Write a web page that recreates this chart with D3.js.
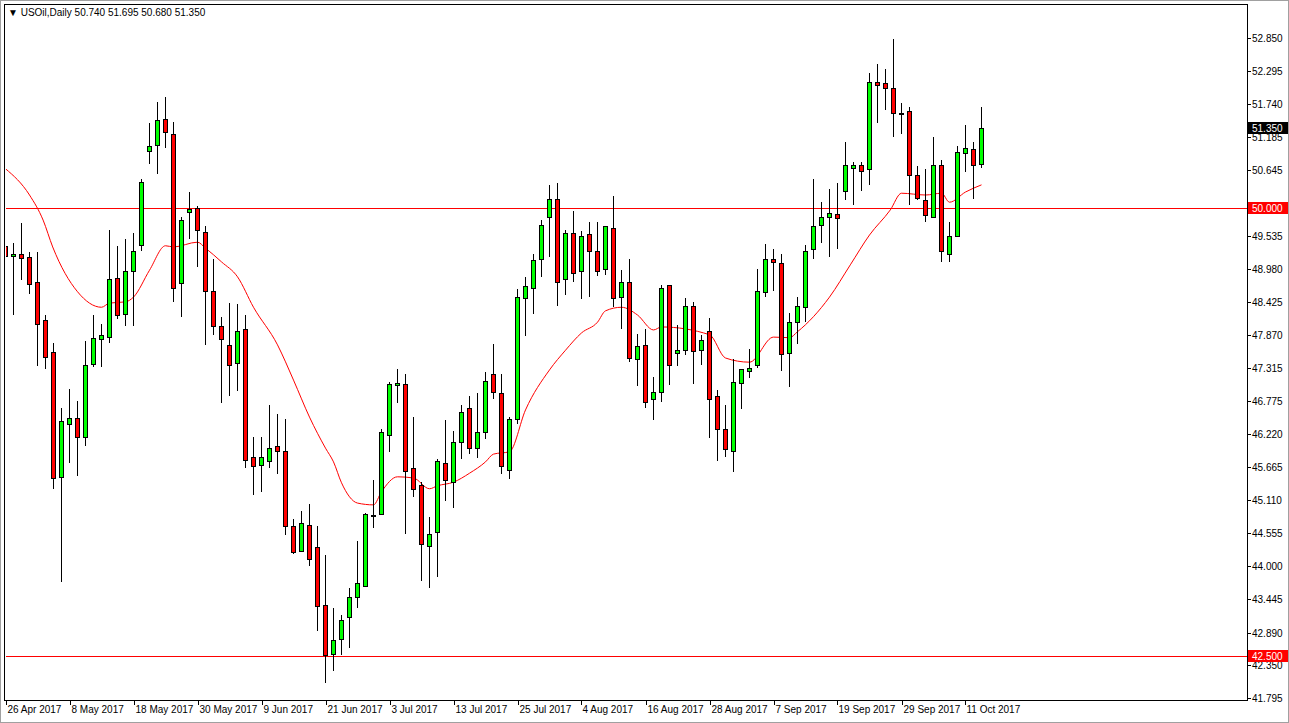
<!DOCTYPE html>
<html><head><meta charset="utf-8">
<script src="https://cdn.jsdelivr.net/npm/d3@7"></script>
<style>body{margin:0;background:#fff}svg{display:block}text{font-family:"Liberation Sans",Arial,sans-serif;font-size:10px}</style>
</head><body><svg id="c" width="1289" height="723"></svg>
<script>
const opens=[49.37,49.20,49.24,49.18,48.76,48.13,47.59,45.49,46.38,46.48,46.16,47.39,47.80,47.84,48.83,48.22,48.94,49.38,50.95,51.05,51.49,51.25,48.74,49.93,50.01,49.60,48.61,48.02,47.70,47.40,47.97,45.83,45.69,45.76,46.01,45.94,44.67,44.25,44.69,44.32,43.36,42.54,42.78,43.15,43.48,43.67,44.85,44.87,46.20,47.03,47.05,45.64,45.36,44.34,44.57,45.73,45.42,46.08,46.66,45.99,46.25,47.23,46.90,45.61,46.46,48.49,48.67,49.14,49.85,50.15,48.81,49.58,48.94,49.56,49.29,48.98,49.66,48.51,48.77,47.47,47.70,46.80,46.92,48.71,47.57,47.62,48.36,47.62,47.95,46.85,46.30,45.93,47.07,47.27,47.37,48.59,49.14,49.08,47.57,48.10,48.34,49.31,49.71,49.85,49.90,50.28,50.68,50.72,50.65,52.12,52.09,52.01,51.59,51.62,50.55,50.13,49.86,50.72,49.24,49.53,50.92,50.99,50.74];
const highs=[50.19,49.41,49.75,49.27,49.26,48.21,47.74,46.65,46.97,46.77,47.78,48.21,48.06,49.64,49.37,49.48,49.58,50.49,51.42,51.77,51.86,51.45,49.85,50.27,50.04,49.70,49.15,48.18,48.41,48.39,48.21,46.17,46.17,46.70,46.55,46.47,44.79,44.93,45.05,44.67,44.19,43.31,43.19,43.64,44.43,44.89,45.45,46.30,47.08,47.30,47.22,46.51,45.41,44.82,45.79,46.45,46.26,46.71,46.85,46.90,47.25,47.73,47.23,46.51,48.65,48.85,49.24,49.80,50.39,50.42,49.63,49.95,49.61,49.76,49.76,49.70,50.20,48.96,49.14,47.89,47.97,47.17,48.72,48.72,48.04,48.50,48.42,47.87,48.16,46.95,46.70,47.47,47.30,47.64,48.98,49.40,49.31,49.24,48.24,48.52,49.38,50.48,50.11,50.32,50.42,51.11,50.78,50.78,52.26,52.41,52.33,52.84,51.76,51.69,50.70,50.65,51.20,50.80,49.76,51.04,51.39,51.10,51.695];
const lows=[48.94,48.21,48.79,48.57,47.35,47.30,45.29,43.74,45.73,45.51,46.01,47.34,47.34,47.74,48.15,48.02,48.03,49.29,50.74,50.57,51.01,48.43,48.17,49.49,49.02,47.71,47.88,46.73,46.85,46.93,45.64,45.20,45.25,45.65,45.55,44.53,44.21,44.25,44.01,42.92,42.04,42.25,42.52,42.63,43.31,43.67,44.65,44.86,45.91,46.73,44.55,45.17,43.76,43.64,43.83,45.10,44.97,45.79,45.89,45.81,46.13,46.80,45.54,45.46,46.38,47.86,48.23,48.85,49.18,48.36,48.54,48.77,48.48,48.52,48.86,48.88,48.34,47.97,47.43,47.02,46.66,46.45,46.76,47.03,47.35,47.54,47.05,47.38,46.15,45.76,45.83,45.58,46.63,47.15,47.33,48.51,48.62,47.27,47.00,47.72,48.10,49.14,49.41,49.18,49.31,50.13,50.06,50.28,50.38,51.42,51.64,51.20,51.25,50.06,50.13,49.76,49.83,49.09,49.09,49.53,50.60,50.15,50.68];
const closes=[49.20,49.23,49.16,48.73,48.06,47.51,45.48,46.44,46.48,46.16,47.37,47.82,47.87,48.81,48.21,48.94,49.29,50.43,51.04,51.47,51.27,48.67,49.80,49.98,49.63,48.62,48.02,47.80,47.38,47.95,45.78,45.68,45.84,45.98,45.94,44.67,44.24,44.72,44.12,43.33,42.51,42.76,43.10,43.48,43.72,44.87,44.86,46.25,47.05,47.07,45.59,45.29,44.37,44.54,45.76,45.44,46.08,46.58,45.98,46.25,47.10,46.92,45.68,46.46,48.52,48.69,49.13,49.71,50.16,48.76,49.58,48.91,49.53,49.29,48.94,49.70,48.49,48.76,47.49,47.69,46.76,46.92,48.67,47.38,47.62,48.36,47.60,47.79,46.80,46.30,45.96,47.08,47.30,47.32,48.62,49.14,49.09,47.55,48.09,48.36,49.29,49.70,49.86,49.92,49.83,50.72,50.72,50.63,52.11,52.06,52.02,51.59,51.58,50.55,50.17,49.88,50.73,49.28,49.53,50.94,51.00,50.72,51.35];
const maIdx=[0,3,4.7,5.9,9,12,13,15,16,18,20,21,24,25,27,29,31,34,36,38,40,41,42,44,46,47,49,51,53,54,56,58,60,61,63,65,68,70,72,74,75,77,79,81,82,88,90,93,96,98,99,103,105.6,108,110.6,112,115,117,118,120,122];
const maVal=[50.66,50.22,49.80,49.35,48.60,48.34,48.41,48.43,48.51,48.96,49.37,49.35,49.43,49.33,49.10,48.85,48.34,47.71,47.12,46.50,45.98,45.75,45.40,45.06,45.03,45.25,45.50,45.48,45.30,45.35,45.41,45.56,45.75,45.88,45.92,46.62,47.29,47.62,47.91,48.09,48.28,48.34,48.21,47.96,48.01,47.88,47.49,47.42,47.84,47.83,47.93,48.51,49.05,49.55,49.97,50.25,50.22,50.25,50.10,50.27,50.39];
const priceTicks=[52.850,52.295,51.740,51.185,50.645,49.535,48.980,48.425,47.870,47.315,46.775,46.220,45.665,45.110,44.555,44.000,43.445,42.890,42.350,41.795];
const dateLabels=["26 Apr 2017","8 May 2017","18 May 2017","30 May 2017","9 Jun 2017","21 Jun 2017","3 Jul 2017","13 Jul 2017","25 Jul 2017","4 Aug 2017","16 Aug 2017","28 Aug 2017","7 Sep 2017","19 Sep 2017","29 Sep 2017","11 Oct 2017"];
const hLevels=[50.000,42.500];
const lastPrice=51.350;

const svg=d3.select("#c");
const L=5,R=1247,T=5,B=700;
const x=d3.scaleLinear().domain([0,122]).range([5.5,981.5]);
const y=d3.scaleLinear().domain([41.795,52.85]).range([698,38]);
svg.append("rect").attr("x",0.5).attr("y",0.5).attr("width",1288).attr("height",722).attr("fill","#fff").attr("stroke","#a0a0a0");
const g=svg.append("g");
svg.append("clipPath").attr("id","pc").append("rect").attr("x",L+1).attr("y",T+1).attr("width",R-L-1).attr("height",B-T-1);
const pg=g.append("g").attr("clip-path","url(#pc)");
hLevels.forEach(v=>pg.append("line").attr("x1",L).attr("x2",R).attr("y1",Math.round(y(v))+0.5).attr("y2",Math.round(y(v))+0.5).attr("stroke","#ff0000"));
pg.append("path").datum(maIdx.map((d,i)=>[d,maVal[i]])).attr("fill","none").attr("stroke","#ff0000").attr("stroke-width",1)
 .attr("d",d3.line().x(d=>x(d[0])).y(d=>y(d[1])).curve(d3.curveMonotoneX));
const idx=d3.range(opens.length);
pg.selectAll("line.w").data(idx).join("line").attr("x1",i=>x(i)).attr("x2",i=>x(i)).attr("y1",i=>Math.round(y(highs[i]))).attr("y2",i=>Math.round(y(lows[i]))).attr("stroke","#000");
pg.selectAll("rect.b").data(idx).join("rect").attr("x",i=>x(i)-2).attr("width",4)
 .attr("y",i=>Math.round(y(Math.max(opens[i],closes[i])))+0.5)
 .attr("height",i=>Math.max(1,Math.round(y(Math.min(opens[i],closes[i])))-Math.round(y(Math.max(opens[i],closes[i])))))
 .attr("fill",i=>closes[i]>=opens[i]?"#00ff00":"#ff0000").attr("stroke","#000");
g.append("rect").attr("x",L-0.5).attr("y",T-0.5).attr("width",R-L+1).attr("height",B-T+1).attr("fill","none").attr("stroke","#000");
priceTicks.forEach(v=>{const yy=Math.round(y(v))+0.5;
 g.append("line").attr("x1",R).attr("x2",R+4).attr("y1",yy).attr("y2",yy).attr("stroke","#000");
 g.append("text").attr("x",R+5).attr("y",yy+3.5).text(v.toFixed(3));});
function tag(v,bg){const yy=Math.round(y(v));
 g.append("rect").attr("x",R+1).attr("y",yy-6).attr("width",40).attr("height",12).attr("fill",bg);
 g.append("text").attr("x",R+5).attr("y",yy+4).attr("fill","#fff").text(v.toFixed(3));}
hLevels.forEach(v=>tag(v,"#ff0000"));
tag(lastPrice,"#000");
dateLabels.forEach((t,k)=>{const xx=Math.round(x(k*8))+0.5;
 g.append("line").attr("x1",xx).attr("x2",xx).attr("y1",B).attr("y2",B+5).attr("stroke","#000");
 g.append("text").attr("x",xx+1).attr("y",B+13).text(t);});
svg.append("text").attr("x",8).attr("y",16).text("\u25BC  USOil,Daily  50.740 51.695 50.680 51.350");
</script></body></html>
